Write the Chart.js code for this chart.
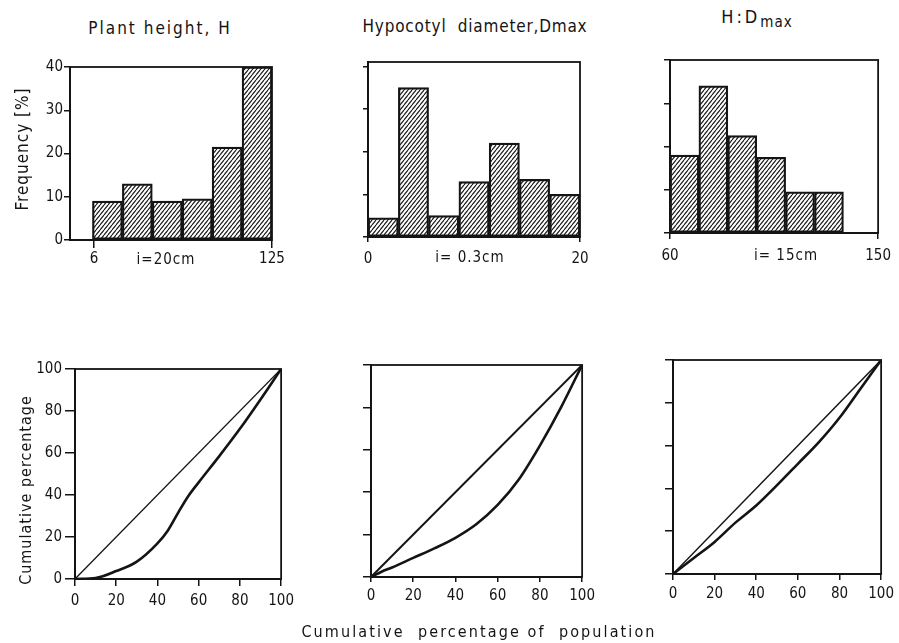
<!DOCTYPE html>
<html>
<head>
<meta charset="utf-8">
<title>Seedling size structure: frequency distributions and Lorenz curves</title>
<script src="https://cdn.jsdelivr.net/npm/chart.js@4.4.1/dist/chart.umd.min.js"></script>
<style>
  html, body { margin: 0; padding: 0; background: #fff; }
  #fig { position: relative; width: 899px; height: 643px; overflow: hidden; background: #fff; }
  #fig canvas { position: absolute; }
  .txt {
    position: absolute; transform: translate(-50%, -50%); white-space: pre; line-height: 1;
    font-family: "DejaVu Sans Condensed", "DejaVu Sans", sans-serif; color: #141414;
  }
  .title { font-size: 17px; letter-spacing: 2px; }
  .note { font-size: 15px; letter-spacing: 1px; }
  .vert { font-size: 16px; letter-spacing: 1px; transform: translate(-50%, -50%) rotate(-90deg); }
  .sub { font-size: 15px; position: relative; top: 4px; letter-spacing: 1px; }
</style>
</head>
<body>
<div id="fig">
  <canvas id="pHeight" width="295" height="240" style="left:0px;top:40px"></canvas>
  <canvas id="pDiam" width="300" height="240" style="left:300px;top:40px"></canvas>
  <canvas id="pRatio" width="299" height="240" style="left:600px;top:40px"></canvas>
  <canvas id="lHeight" width="300" height="300" style="left:0px;top:330px"></canvas>
  <canvas id="lDiam" width="300" height="300" style="left:300px;top:330px"></canvas>
  <canvas id="lRatio" width="299" height="300" style="left:600px;top:330px"></canvas>

  <div class="txt title" style="left:160px;top:28px">Plant height, H</div>
  <div class="txt title" style="left:475px;top:26px;letter-spacing:0.8px">Hypocotyl  diameter,Dmax</div>
  <div class="txt title" style="left:757px;top:17px;font-size:18px;letter-spacing:3px">H:D<span class="sub">max</span></div>

  <div class="txt note" style="left:166px;top:259px">i=20cm</div>
  <div class="txt note" style="left:470px;top:257px">i= 0.3cm</div>
  <div class="txt note" style="left:786px;top:255px">i= 15cm</div>

  <div class="txt vert" style="left:22px;top:149px;font-size:17px">Frequency [%]</div>
  <div class="txt vert" style="left:26px;top:490px">Cumulative percentage</div>

  <div class="txt title" style="left:479px;top:632px;font-size:16px;letter-spacing:2.1px">Cumulative  percentage of  population</div>
</div>
<script>
// ---- Frequency distributions (class centres and class frequency, %) ----
const heightBins = [15, 35, 55, 75, 95, 115];
const heightFreq = [9, 13, 9, 9.5, 21.5, 40];
const heightTicks = [6, 125];

const diamBins = [1.43, 4.29, 7.14, 10, 12.86, 15.71, 18.57];
const diamFreq = [4.5, 35, 5, 13, 22, 13.5, 10];
const diamTicks = [0, 20];

const ratioBins = [66.25, 78.75, 91.25, 103.75, 116.25, 128.75];
const ratioFreq = [18, 34, 22.5, 17.5, 9.5, 9.5];
const ratioTicks = [60, 150];

const freqTicks = [0, 10, 20, 30, 40];

// ---- Lorenz curves (cumulative % of population vs cumulative % of size) ----
const equality = [0, 100];

const heightCumPop = [0, 10, 20, 30, 40, 45, 50, 55, 60, 70, 80, 90, 100];
const heightCumVal = [0, 0.5, 3.8, 8.3, 17, 23, 31.5, 39.5, 46, 58.5, 71.5, 85.5, 100];

const diamCumPop = [0, 5, 10, 20, 30, 40, 50, 60, 70, 80, 90, 100];
const diamCumVal = [0, 2.5, 4.5, 9, 13.5, 18.5, 25, 34, 46, 62, 80, 100];

const ratioCumPop = [0, 10, 20, 30, 40, 50, 60, 70, 80, 90, 100];
const ratioCumVal = [0, 7.5, 15, 24, 32, 41.5, 51.5, 61.5, 73, 86.5, 100];

const pctTicks = [0, 20, 40, 60, 80, 100];

// ---- styling ----
const INK = '#141414';
const TICK_FONT = { family: '"DejaVu Sans Condensed", "DejaVu Sans", sans-serif', size: 15 };

function hatchPattern() {
  const c = document.createElement('canvas');
  c.width = 4; c.height = 5;
  const g = c.getContext('2d');
  g.fillStyle = '#fff';
  g.fillRect(0, 0, 4, 5);
  g.strokeStyle = INK;
  g.lineWidth = 1.1;
  for (let k = -1; k <= 1; k++) {
    g.beginPath();
    g.moveTo(k * 4, 5);
    g.lineTo(k * 4 + 4, 0);
    g.stroke();
  }
  return g.createPattern(c, 'repeat');
}
const HATCH = hatchPattern();

// closes the plot box on the top and right
const framePlugin = {
  id: 'frame',
  afterDatasetsDraw(chart) {
    const { ctx, chartArea: a } = chart;
    ctx.save();
    ctx.strokeStyle = INK;
    ctx.lineWidth = 1.8;
    ctx.strokeRect(a.left, a.top, a.right - a.left, a.bottom - a.top);
    ctx.restore();
  }
};

function toPoints(xs, ys) {
  return xs.map((x, i) => ({ x: x, y: ys[i] }));
}

// p: canvas placement + plot box (page coordinates) + axis settings
function buildOptions(p) {
  const yW = p.box[0] - p.canvas[0];
  const padTop = p.box[1] - p.canvas[1];
  const padRight = p.canvas[0] + p.canvas[2] - p.box[2];
  const xH = p.canvas[1] + p.canvas[3] - p.box[3];
  return {
    responsive: false,
    animation: false,
    events: [],
    layout: { padding: { left: 0, top: padTop, right: padRight, bottom: 0 } },
    plugins: { legend: { display: false }, tooltip: { enabled: false }, title: { display: false } },
    scales: {
      x: {
        type: 'linear', min: p.xMin, max: p.xMax, offset: false,
        afterFit(s) { s.height = xH; },
        afterBuildTicks(s) { s.ticks = p.xTicks.map(v => ({ value: v })); },
        ticks: { font: TICK_FONT, color: INK, padding: p.xPad, maxRotation: 0, autoSkip: false,
                 callback: v => String(v) },
        grid: { display: true, drawOnChartArea: false, drawTicks: true, tickLength: p.xTickLen,
                color: INK, lineWidth: 1.5, offset: false },
        border: { display: true, color: INK, width: 2 }
      },
      y: {
        type: 'linear', min: 0, max: p.yMax,
        afterFit(s) { s.width = yW; },
        afterBuildTicks(s) { s.ticks = p.yTicks.map(v => ({ value: v })); },
        ticks: { font: TICK_FONT, color: INK, padding: p.yPad, autoSkip: false,
                 callback: v => (p.yLabels ? String(v) : '') },
        grid: { display: true, drawOnChartArea: false, drawTicks: true, tickLength: p.yTickLen,
                color: INK, lineWidth: 1.5 },
        border: { display: true, color: INK, width: 2 }
      }
    }
  };
}

function histogram(id, bins, freq, p) {
  new Chart(document.getElementById(id), {
    type: 'bar',
    data: {
      datasets: [{
        data: toPoints(bins, freq),
        backgroundColor: HATCH,
        borderColor: INK,
        borderWidth: 2.2,
        borderSkipped: false,
        barPercentage: 1,
        categoryPercentage: 1
      }]
    },
    options: buildOptions(p),
    plugins: [framePlugin]
  });
}

function lorenz(id, pop, val, p, diagWidth) {
  new Chart(document.getElementById(id), {
    type: 'line',
    data: {
      datasets: [
        { data: toPoints(equality, equality), borderColor: INK, borderWidth: diagWidth,
          pointRadius: 0, tension: 0, fill: false },
        { data: toPoints(pop, val), borderColor: INK, borderWidth: 2.6,
          pointRadius: 0, cubicInterpolationMode: 'monotone', fill: false }
      ]
    },
    options: buildOptions(p),
    plugins: [framePlugin]
  });
}

histogram('pHeight', heightBins, heightFreq, {
  canvas: [0, 40, 295, 240], box: [70, 67, 272, 240],
  xMin: -10, xMax: 125, xTicks: heightTicks, xPad: 2, xTickLen: 8,
  yMax: 40, yTicks: freqTicks, yLabels: true, yPad: 1, yTickLen: 6
});
histogram('pDiam', diamBins, diamFreq, {
  canvas: [300, 40, 300, 240], box: [368, 62, 580, 237],
  xMin: 0, xMax: 20, xTicks: diamTicks, xPad: 8, xTickLen: 5,
  yMax: 41, yTicks: freqTicks, yLabels: false, yPad: 1, yTickLen: 5
});
histogram('pRatio', ratioBins, ratioFreq, {
  canvas: [600, 40, 299, 240], box: [670, 60, 885, 233],
  xMin: 60, xMax: 150, xTicks: ratioTicks, xPad: 8, xTickLen: 6,
  yMax: 40, yTicks: freqTicks, yLabels: false, yPad: 1, yTickLen: 6
});

lorenz('lHeight', heightCumPop, heightCumVal, {
  canvas: [0, 330, 300, 300], box: [75, 369, 286, 579],
  xMin: 0, xMax: 100, xTicks: pctTicks, xPad: 6, xTickLen: 7,
  yMax: 100, yTicks: pctTicks, yLabels: true, yPad: 3, yTickLen: 10
}, 1.3);
lorenz('lDiam', diamCumPop, diamCumVal, {
  canvas: [300, 330, 300, 300], box: [371, 365, 587, 577],
  xMin: 0, xMax: 100, xTicks: pctTicks, xPad: 5, xTickLen: 5,
  yMax: 100, yTicks: pctTicks, yLabels: false, yPad: 1, yTickLen: 8
}, 2);
lorenz('lRatio', ratioCumPop, ratioCumVal, {
  canvas: [600, 330, 299, 300], box: [673, 360, 884, 574],
  xMin: 0, xMax: 100, xTicks: pctTicks, xPad: 5, xTickLen: 6,
  yMax: 100, yTicks: pctTicks, yLabels: false, yPad: 1, yTickLen: 8
}, 1.4);
</script>
</body>
</html>
